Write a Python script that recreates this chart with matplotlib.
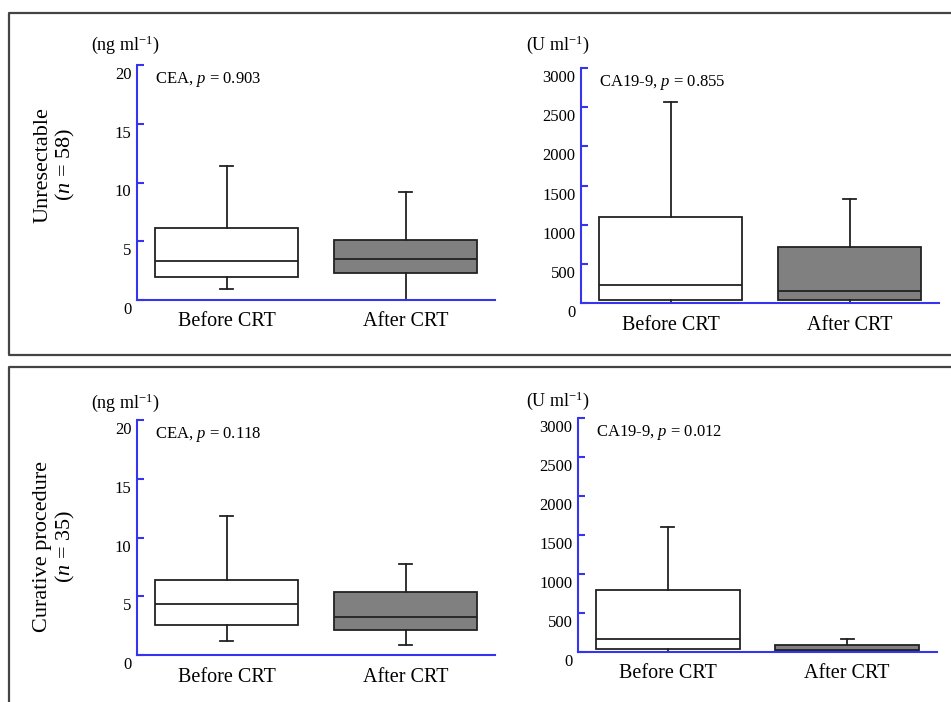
import matplotlib
matplotlib.use("Agg")
import matplotlib.pyplot as plt
from matplotlib.lines import Line2D
from matplotlib.transforms import ScaledTranslation

plt.rcParams['font.family'] = ['Liberation Serif', 'DejaVu Serif']
plt.rcParams['mathtext.fontset'] = 'custom'
plt.rcParams['mathtext.rm'] = 'Liberation Serif'
plt.rcParams['mathtext.it'] = 'Liberation Serif:italic'

groups = ["Before CRT", "After CRT"]

# values: low whisker, q1, median, q3, high whisker
cea_unres = [[0.93, 2.0, 3.3, 6.1, 11.4], [0.0, 2.3, 3.45, 5.1, 9.15]]
ca_unres = [[5, 38, 230, 1097, 2565], [5, 38, 153, 714, 1327]]
cea_cur = [[1.2, 2.55, 4.35, 6.4, 11.85], [0.85, 2.13, 3.25, 5.37, 7.75]]
ca_cur = [[5, 38, 167, 795, 1603], [0, 8, 22, 95, 167]]

p_labels = ["CEA, $p$ = 0.903", "CA19-9, $p$ = 0.855",
            "CEA, $p$ = 0.118", "CA19-9, $p$ = 0.012"]
units = ["(ng ml$^{-1}$)", "(U ml$^{-1}$)"]
row_labels = ["Unresectable\n($n$ = 58)", "Curative procedure\n($n$ = 35)"]

blue = '#3535f0'
W, H = 951, 702
fig = plt.figure(figsize=(9.51, 7.02), dpi=100)


def px_axes(x0, x1, ytop, ybot):
    return fig.add_axes([x0 / W, 1 - ybot / H, (x1 - x0) / W, (ybot - ytop) / H])


def draw_panel(ax, data, ymax, step, label):
    stats = []
    for g, v in zip(groups, data):
        stats.append(dict(label=g, whislo=v[0], q1=v[1], med=v[2], q3=v[3], whishi=v[4]))
    bp = ax.bxp(stats, positions=[1, 2], widths=0.8, showfliers=False,
                patch_artist=True, capwidths=0.07,
                boxprops=dict(edgecolor='#222222', linewidth=1.3),
                medianprops=dict(color='#222222', linewidth=1.3),
                whiskerprops=dict(color='#222222', linewidth=1.3),
                capprops=dict(color='#222222', linewidth=1.3))
    bp['boxes'][0].set_facecolor('white')
    bp['boxes'][1].set_facecolor('#808080')
    ax.set_xlim(0.5, 2.5)
    ax.set_ylim(0, ymax)
    ax.set_yticks(range(0, ymax + 1, step))
    for s in ['top', 'right']:
        ax.spines[s].set_visible(False)
    for s in ['left', 'bottom']:
        ax.spines[s].set_color(blue)
        ax.spines[s].set_linewidth(1.5)
    ax.tick_params(axis='y', direction='in', length=5, width=1.5, color=blue,
                   labelsize=12, pad=4)
    ax.tick_params(axis='x', length=0, labelsize=14.5, pad=9)
    off = ScaledTranslation(0, -8 / 100, fig.dpi_scale_trans)
    for t in ax.get_yticklabels():
        t.set_transform(t.get_transform() + off)
    ax.text(0.05, 0.94, label, transform=ax.transAxes, fontsize=12,
            va='center', ha='left')


ax1 = px_axes(137, 495, 65, 300)
ax2 = px_axes(581, 939, 68, 303)
ax3 = px_axes(137, 495, 420, 655)
ax4 = px_axes(578, 937, 418, 652)

draw_panel(ax1, cea_unres, 20, 5, p_labels[0])
draw_panel(ax2, ca_unres, 3000, 500, p_labels[1])
draw_panel(ax3, cea_cur, 20, 5, p_labels[2])
draw_panel(ax4, ca_cur, 3000, 500, p_labels[3])

# unit labels
fig.text(91 / W, 1 - 45 / H, units[0], fontsize=13, va='center', ha='left')
fig.text(526 / W, 1 - 45 / H, units[1], fontsize=13, va='center', ha='left')
fig.text(91 / W, 1 - 403 / H, units[0], fontsize=13, va='center', ha='left')
fig.text(526 / W, 1 - 401 / H, units[1], fontsize=13, va='center', ha='left')

# row labels
fig.text(55 / W, 1 - 165 / H, row_labels[0], fontsize=16, rotation=90,
         va='center', ha='center', linespacing=1.1)
fig.text(55 / W, 1 - 547 / H, row_labels[1], fontsize=16, rotation=90,
         va='center', ha='center', linespacing=1.1)

# panel frames
fc = '#444444'
for xs, ys in [([W, 9, 9, W], [13, 13, 355, 355]), ([W, 9, 9], [367, 367, H])]:
    fig.add_artist(Line2D([x / W for x in xs], [1 - y / H for y in ys],
                          color=fc, linewidth=1.6, transform=fig.transFigure))

fig.savefig("out.png", dpi=100)
